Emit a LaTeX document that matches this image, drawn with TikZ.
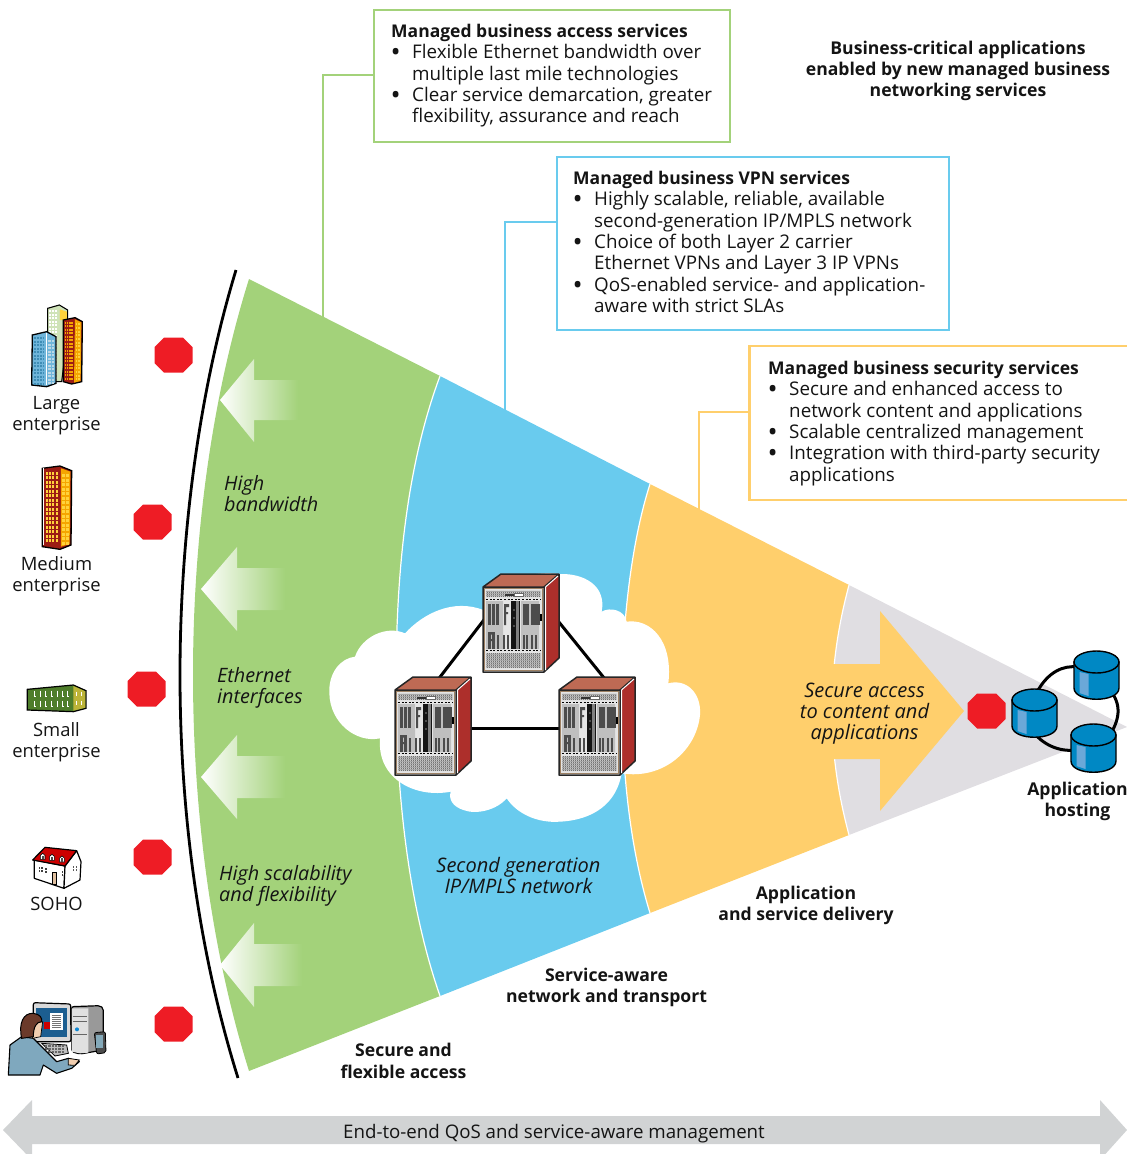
\documentclass[tikz,border=0pt]{standalone}
\usepackage{fontspec}
\setmainfont{Open Sans}
\definecolor{wgreen}{HTML}{A3D27A}
\definecolor{wblue}{HTML}{69CBEE}
\definecolor{wyellow}{HTML}{FFCF6C}
\definecolor{wgray}{HTML}{E0DEE2}
\definecolor{arrgray}{HTML}{D1D3D4}
\definecolor{stopred}{HTML}{EE1C25}
\definecolor{srvtop}{HTML}{BE6A54}
\definecolor{srvside}{HTML}{AD2F2B}
\definecolor{dbblue}{HTML}{0088C4}
\definecolor{dbhi}{HTML}{6BA8D8}
\definecolor{bldblue}{HTML}{6FB5DA}
\definecolor{bldwin}{HTML}{3F8DB5}
\definecolor{bldred}{HTML}{9C1C14}
\definecolor{bldorange}{HTML}{F5A500}
\definecolor{bldyellow}{HTML}{FFD23C}
\definecolor{bldgreen}{HTML}{4E7D2A}
\definecolor{bldpale}{HTML}{CFE3B8}
\definecolor{shirt}{HTML}{7FA8BE}
\definecolor{hair}{HTML}{6B3A2A}
\definecolor{skin}{HTML}{F2CFB0}
\definecolor{scrn}{HTML}{1C5E90}
\newcommand{\wgrid}[9]{\foreach \i in {0,...,#3}{\foreach \j in {0,...,#4}{\fill[#9] ({#1+\i*#5},{#2+\j*#6}) rectangle +(#7,#8);}}}
\newcommand{\bul}{\hspace*{21pt}\llap{\makebox[21.5pt][l]{\raisebox{-3pt}{\fontsize{27}{27}\selectfont •}}}}
\newcommand{\cont}{\hspace*{21pt}}
\newcommand{\boxhead}{\fontsize{17.5}{21.3}\selectfont\bfseries}
\tikzset{
  txt/.style={font=\fontsize{18.4}{21.3}\selectfont,inner sep=0pt,align=center,text=black!92},
  btxt/.style={font=\fontsize{17.6}{21.3}\selectfont\bfseries,inner sep=0pt,align=center,text=black!92},
  itxt/.style={font=\fontsize{20}{21.3}\selectfont\itshape,inner sep=0pt,align=center,text=black!92},
  ltxt/.style={font=\fontsize{19.8}{21.3}\selectfont\itshape,inner sep=0pt,align=left,anchor=west,text=black!92},
  boxtxt/.style={font=\fontsize{18.8}{21.3}\selectfont,inner sep=0pt,align=left,anchor=north west,text=black!92},
  stopsign/.style={fill=stopred,draw=none},
  callout/.style={line width=2.5pt,fill=white},
  conn/.style={line width=2.5pt},
  link/.style={line width=3pt,black},
  fadearrow/.style={left color=white,right color=wgreen},
  server/.pic={
    \fill[srvtop] (0,0)--(18,-13)--(76,-13)--(61,0)--cycle;
    \fill[srvside] (61,0)--(76,-13)--(76,71)--(61,85)--cycle;
    \draw[line width=1.5pt,black!85,line join=round] (0,0)--(18,-13)--(76,-13)--(76,71)--(61,85)--(0,85)--cycle (61,85)--(61,0)--(76,-13) (0,0)--(61,0);
    \draw[white,line width=1pt] (62.5,0)--(75,-11) (62.5,0)--(62.5,83);
    \fill[black!10] (1,1) rectangle (60,84);
    \draw[line width=.7pt,brown!45!gray] (1.2,1.2) rectangle (59.8,83.8);
    \fill[black!22] (3,3.5) rectangle (58,10) (3,66) rectangle (58,81);
    \foreach \x in {4,6,...,56}{\draw[black!55,line width=.6pt] (\x,3.5)--(\x,10) (\x,66)--(\x,81);}
    \foreach \y in {4,6,8,67,69,...,80}{\draw[black!35,line width=.4pt] (3,\y)--(57,\y);}
    \fill[black!80] (22,6.5) rectangle (31,9);
    \fill[white,draw=black!60,line width=.3pt] (31,6.5) rectangle (40,9);
    \draw[black,line width=1.3pt,dash pattern=on 2pt off 1.6pt] (3,12.5)--(58,12.5);
    \draw[black,line width=1.3pt,dash pattern=on 2pt off 1.6pt] (3,63.5)--(58,63.5);
    \fill[black!25] (3,14) rectangle (20,62) (38,14) rectangle (56,62);
    \foreach \x in {5,9,13,40,43,48,51,54}{\fill[black!70] (\x,17) rectangle +(2.6,21);}
    \fill[black!70] (21,17) rectangle (23,38) (21,17) rectangle (26,20) (21,25) rectangle (25,27);
    \foreach \x in {5,9}{\fill[black!70] (\x,45) rectangle +(2.6,17);}
    \fill[black!70] (5,45) rectangle (11.6,47.5) (5,52) rectangle (11.6,54);
    \foreach \x in {14,20,24,40,43,48,52}{\fill[black!70] (\x,48) rectangle +(2.4,14);}
    \fill[black!92] (28,14) rectangle (33,62);
    \fill[black!92] (35.5,14) rectangle (37,62);
    \fill[black!50] (33,14) rectangle (35.5,62);
    \foreach \y in {22,30,38}{\fill[black!70] (29.5,\y) rectangle +(2,2);}
    \fill[black] (57,27) rectangle (59,34);
  },
  dbcyl/.pic={
    \path[fill=dbblue,draw=black,line width=1.4pt] (-22.5,0) -- (-22.5,26) .. controls (-22.5,41) and (22.5,41) .. (22.5,26) -- (22.5,0) -- cycle;
    \fill[dbhi] (-17,10) -- (-8,12) -- (-8,34) -- (-17,31) -- cycle;
    \draw[fill=dbblue,line width=1.4pt] (0,0) ellipse [x radius=22.5,y radius=11];
  }
}
\begin{document}
\begin{tikzpicture}[x=1pt,y=-1pt]
\useasboundingbox (0,0) rectangle (1127,1154);
% connectors and callouts behind wedge
\coordinate (gbend) at (323,75);
\coordinate (gfoot) at (323,325);
\coordinate (bbend) at (505,222);
\coordinate (bfoot) at (505,415);
\coordinate (ybend) at (699,412);
\coordinate (yfoot) at (699,515);
\node[draw=wgreen,callout,minimum width=356pt,minimum height=132pt,anchor=north west,inner sep=0pt] (gbox) at (372.5,8.5) {};
\node[draw=wblue,callout,minimum width=392pt,minimum height=173pt,anchor=north west,inner sep=0pt] (bbox) at (555.5,155.5) {};
\node[draw=wyellow,callout,minimum width=385pt,minimum height=154pt,anchor=north west,inner sep=0pt] (ybox) at (748,344.5) {};
\draw[conn,wgreen] (gbox.west |- gbend) -- (gbend) -- (gfoot);
\draw[conn,wblue] (bbox.west |- bbend) -- (bbend) -- (bfoot);
\draw[conn,wyellow] (ybox.west |- ybend) -- (ybend) -- (yfoot);
\node[boxtxt] (gtext) at (391,24) {{\boxhead Managed business access services}\\
\bul Flexible Ethernet bandwidth over\\
\cont multiple last mile technologies\\
\bul Clear service demarcation, greater\\
\cont flexibility, assurance and reach};
\node[boxtxt] (btext) at (573,171) {{\boxhead Managed business VPN services}\\
\bul Highly scalable, reliable, available\\
\cont second-generation IP/MPLS network\\
\bul Choice of both Layer 2 carrier\\
\cont Ethernet VPNs and Layer 3 IP VPNs\\
\bul QoS-enabled service- and application-\\
\cont aware with strict SLAs};
\node[boxtxt] (ytext) at (768,361) {{\boxhead Managed business security services}\\
\bul Secure and enhanced access to\\
\cont network content and applications\\
\bul Scalable centralized management\\
\bul Integration with third-party security\\
\cont applications};
\node[btxt] (title) at (958,71) {Business-critical applications\\enabled by new managed business\\networking services};
% wedge
\fill[wgray] (849,585) -- (1127,727) -- (849,835) .. controls (837,790) and (832,750) .. (832,710) .. controls (832,670) and (837,630) .. (849,585) -- cycle;
\fill[wyellow] (650,484) -- (849,585) .. controls (837,630) and (832,670) .. (832,710) .. controls (832,750) and (837,790) .. (849,835) -- (650,913) .. controls (632,855) and (622,780) .. (622,698) .. controls (622,620) and (632,540) .. (650,484) -- cycle;
\fill[wblue] (440,376) -- (650,484) .. controls (632,540) and (622,620) .. (622,698) .. controls (622,780) and (632,855) .. (650,913) -- (440,996) .. controls (410,910) and (396,800) .. (396,686) .. controls (396,580) and (405,470) .. (440,376) -- cycle;
\fill[wgreen] (249,279) -- (440,376) .. controls (405,470) and (396,580) .. (396,686) .. controls (396,800) and (410,910) .. (440,996) -- (249,1071) .. controls (211,950) and (193,810) .. (193,675) .. controls (193,540) and (211,400) .. (249,279) -- cycle;
\draw[white,line width=1.2pt] (440,376) .. controls (405,470) and (396,580) .. (396,686) .. controls (396,800) and (410,910) .. (440,996);
\draw[white,line width=1.2pt] (650,484) .. controls (632,540) and (622,620) .. (622,698) .. controls (622,780) and (632,855) .. (650,913);
\draw[white,line width=1.2pt] (849,585) .. controls (837,630) and (832,670) .. (832,710) .. controls (832,750) and (837,790) .. (849,835);
\draw[black,line width=2.8pt] (236,270) .. controls (198,395) and (180,540) .. (180,675) .. controls (180,810) and (198,950) .. (238,1078);
% yellow arrow
\fill[wyellow] (830,664) -- (880,664) -- (880,611) -- (964,711) -- (880,811) -- (880,759) -- (830,759) -- cycle;
% fading arrows
\shade[fadearrow] (220,400) -- (254,359) -- (254,380) -- (298,380) -- (298,420) -- (254,420) -- (254,442) -- cycle;
\shade[fadearrow] (201,589) -- (237,547) -- (237,568) -- (285,568) -- (285,610) -- (237,610) -- (237,631) -- cycle;
\shade[fadearrow] (201,777) -- (237,735) -- (237,756) -- (285,756) -- (285,798) -- (237,798) -- (237,819) -- cycle;
\shade[fadearrow] (220,965) -- (254,923) -- (254,944) -- (302,944) -- (302,986) -- (254,986) -- (254,1007) -- cycle;
% cloud
\begin{scope}[shift={(320,560)},scale=1/3]
\fill[white] (255,220) .. controls (310,160) and (400,115) .. (490,150)
 .. controls (520,60) and (640,30) .. (720,42)
 .. controls (790,40) and (860,75) .. (845,155)
 .. controls (870,140) and (915,150) .. (920,185)
 .. controls (990,175) and (1060,240) .. (1045,370)
 .. controls (1100,355) and (1145,400) .. (1140,465)
 .. controls (1130,570) and (1030,660) .. (905,640)
 .. controls (890,730) and (820,780) .. (720,785)
 .. controls (650,790) and (590,760) .. (560,715)
 .. controls (530,750) and (470,765) .. (430,750)
 .. controls (400,740) and (385,720) .. (392,695)
 .. controls (290,715) and (170,660) .. (180,535)
 .. controls (110,550) and (30,490) .. (28,400)
 .. controls (25,340) and (60,295) .. (105,290)
 .. controls (125,230) and (200,195) .. (255,220) -- cycle;
\end{scope}
% server triangle
\coordinate (ta) at (490,612);
\coordinate (la) at (430,690);
\coordinate (tb) at (550,611);
\coordinate (rb) at (613,689);
\coordinate (lc) at (470,728.3);
\coordinate (rc) at (560,728.3);
\draw[link] (ta) -- (la);
\draw[link] (tb) -- (rb);
\draw[link] (lc) -- (rc);
\pic at (483,587) {server};
\pic at (395,690) {server};
\pic at (559,690) {server};
% red octagons
\foreach \cx/\cy in {173.5/355,152.5/522,146.5/689,152.5/857,173.5/1024,986.5/711}{
 \fill[stopsign] (\cx-9.5,\cy-17.5)--(\cx+9.5,\cy-17.5)--(\cx+19,\cy-8)--(\cx+19,\cy+8)--(\cx+9.5,\cy+17.5)--(\cx-9.5,\cy+17.5)--(\cx-19,\cy+8)--(\cx-19,\cy-8)--cycle;
}
% database
\draw[link] (1037,692) .. controls (1048,672) and (1063,665) .. (1078,667);
\draw[link] (1110,690) .. controls (1122,705) and (1120,720) .. (1108,738);
\draw[link] (1032,730) .. controls (1042,745) and (1060,752) .. (1075,750);
\pic at (1034.5,700) {dbcyl};
\pic at (1096.5,662) {dbcyl};
\pic at (1093.5,735) {dbcyl};
% large enterprise icon
\begin{scope}[shift={(0,280)},scale=1/3]
\draw[fill=bldpale,line width=1.1pt] (143,85)--(178,75)--(203,90)--(203,160)--(185,305)--(170,305)--(143,300)--cycle;
\wgrid{148}{90}{2}{19}{9}{10.5}{6}{6}{white}
\fill[bldyellow] (180,88) -- (201,95)--(201,120)--(180,120)--cycle;
\draw[fill=bldblue,line width=1.3pt] (97,165)--(140,155)--(168,170)--(168,310)--(140,320)--(95,315)--cycle;
\draw[white,line width=.5pt] (140,158)--(140,316);
\wgrid{103}{172}{3}{13}{8.5}{10.5}{5}{6}{bldwin}
\wgrid{145}{180}{1}{12}{10}{10.5}{7}{6}{bldwin!35!white}
\draw[fill=bldred,line width=1.3pt] (190,120)--(225,113)--(247,125)--(245,305)--(215,312)--(190,305)--cycle;
\fill[bldorange] (225,118)--(244,127)--(242,303)--(222,308)--cycle;
\wgrid{195}{125}{3}{16}{6.5}{10.5}{4}{6}{bldorange}
\wgrid{227}{130}{1}{15}{7.5}{11}{5}{6}{bldyellow}
\end{scope}
% medium enterprise icon
\begin{scope}[shift={(0,280)},scale=1/3]
\draw[fill=bldred,line width=1.3pt] (127,565)--(180,558)--(215,572)--(213,795)--(180,808)--(127,800)--cycle;
\fill[bldorange] (183,565)--(211,575)--(209,792)--(183,800)--cycle;
\draw[white,line width=.8pt] (131,565)--(131,795);
\wgrid{137}{575}{3}{15}{10}{13.5}{6.5}{9}{bldyellow}
\wgrid{187}{582}{1}{15}{11}{13.5}{8}{9}{bldyellow}
\end{scope}
% small enterprise icon
\begin{scope}[shift={(0,660)},scale=1/3]
\draw[fill=bldgreen,line width=1.2pt] (82,88)--(220,75)--(258,92)--(258,145)--(220,155)--(82,150)--cycle;
\fill[yellow!70!black] (220,78)--(256,94)--(256,143)--(220,152)--cycle;
\foreach \x in {103,120,137,154,171,188,202}{\draw[white,line width=.6pt] (\x,92)--(\x,108)--(\x+4,108) (\x,122)--(\x,138)--(\x+4,138);}
\foreach \x in {230,243}{\draw[white,line width=.5pt] (\x,95)--(\x,108) (\x,122)--(\x,136);}
\end{scope}
% SOHO icon
\begin{scope}[shift={(0,660)},scale=1/3]
\draw[fill=white,line width=1.2pt,line join=round] (103,600)--(195,618)--(192,685)--(103,655)--cycle;
\draw[fill=white,line width=1.2pt,line join=round] (195,618)--(230,572)--(243,605)--(240,660)--(192,685)--cycle;
\draw[fill=red!80!black,line width=1.2pt,line join=round] (98,600)--(135,562)--(230,572)--(195,618)--cycle;
\foreach \x/\y in {128/590,156/593,186/598}{\draw[fill=white,line width=.6pt] (\x-7,\y+8)--(\x-7,\y-4)--(\x,\y-10)--(\x+7,\y-4)--(\x+7,\y+8)--cycle; \fill[black!70] (\x-3,\y-3) rectangle (\x+3,\y+7);}
\fill[brown!50!white,draw=black,line width=.5pt] (157,638) rectangle (170,672);
\wgrid{117}{620}{1}{1}{7}{9}{4}{6}{black!75}
\wgrid{136}{624}{0}{1}{7}{9}{4}{6}{black!75}
\wgrid{186}{632}{0}{1}{7}{9}{4}{6}{black!75}
\wgrid{218}{617}{1}{1}{9}{9}{4}{7}{black!65}
\end{scope}
% workstation icon
\begin{scope}[shift={(0,660)},scale=1/3]
\draw[fill=black!40,line width=1.2pt,rounded corners=2pt] (215,1040)--(300,1037)--(310,1045)--(310,1170)--(240,1182)--(215,1175)--cycle;
\fill[black!12] (215,1045)--(265,1045)--(265,1178)--(240,1180)--(215,1175)--cycle;
\draw[black!60,line width=.8pt] (218,1068)--(262,1068) (218,1085)--(262,1085) (218,1122)--(262,1122);
\fill[cyan!70!blue] (231,1108) circle (6);
\draw[fill=black!15,line width=1.2pt,rounded corners=2pt] (100,1028)--(212,1032)--(213,1145)--(100,1145)--cycle;
\fill[scrn] (108,1045) rectangle (200,1130);
\fill[white] (150,1060) rectangle (188,1110);
\wgrid{155}{1066}{0}{6}{0}{6}{27}{3}{black!55}
\fill[red!80!black] (132,1085) rectangle (150,1108);
\draw[fill=black!70,line width=.8pt,rounded corners=2pt] (283,1118)--(316,1115)--(318,1178)--(290,1182)--cycle;
\fill[cyan!50!black!60] (288,1125) rectangle (310,1165);
\draw[fill=black!25,line width=.8pt] (125,1150)--(200,1155)--(205,1180)--(165,1188)--cycle;
\wgrid{135}{1155}{5}{2}{10}{9}{7}{6}{black!60}
\draw[fill=shirt,line width=1.1pt,line join=round] (25,1245)--(30,1155)--(65,1130)--(100,1135)--(125,1160)--(170,1205)--(205,1195)--(238,1205)--(215,1225)--(170,1240)--(130,1215)--(120,1245)--cycle;
\fill[skin,draw=black,line width=.8pt] (205,1195)--(238,1200)--(225,1216)--(205,1215)--cycle;
\fill[skin,draw=black,line width=.7pt] (95,1090)--(128,1085)--(122,1130)--(98,1135)--cycle;
\draw[fill=hair,line width=1pt] (65,1135) .. controls (55,1090) and (70,1058) .. (100,1060) .. controls (120,1062) and (128,1075) .. (125,1085) .. controls (110,1085) and (100,1100) .. (100,1130) -- cycle;
\end{scope}
% bottom arrow
\fill[arrgray] (3,1130) -- (32,1100) -- (32,1116) -- (1100,1116) -- (1100,1100) -- (1127,1130) -- (1100,1160) -- (1100,1144) -- (32,1144) -- (32,1160) -- cycle;
% labels
\node[txt] (lbllarge) at (56.5,415.5) {Large\\enterprise};
\node[txt] (lblmed) at (56.5,576.5) {Medium\\enterprise};
\node[txt] (lblsmall) at (56.5,742.5) {Small\\enterprise};
\node[txt] (lblsoho) at (56.5,904) {SOHO};
\node[ltxt] (hb) at (224,493.5) {High\\bandwidth};
\node[ltxt] (ei) at (217,688) {Ethernet\\interfaces};
\node[ltxt] (hs) at (219,885.5) {High scalability\\and flexibility};
\node[itxt] (sg) at (518.5,875.5) {Second generation\\IP/MPLS network};
\node[itxt] (sa) at (864.5,713.5) {Secure access\\to content and\\applications};
\node[btxt] (apph) at (1077.5,801.5) {Application\\hosting};
\node[btxt] (appd) at (806,905.5) {Application\\and service delivery};
\node[btxt] (svc) at (606.5,987.5) {Service-aware\\network and transport};
\node[btxt] (sec) at (403.5,1061) {Secure and\\flexible access};
\node[txt,font=\fontsize{18.7}{21.3}\selectfont] (e2e) at (554,1133.5) {End-to-end QoS and service-aware management};
\end{tikzpicture}
\end{document}
